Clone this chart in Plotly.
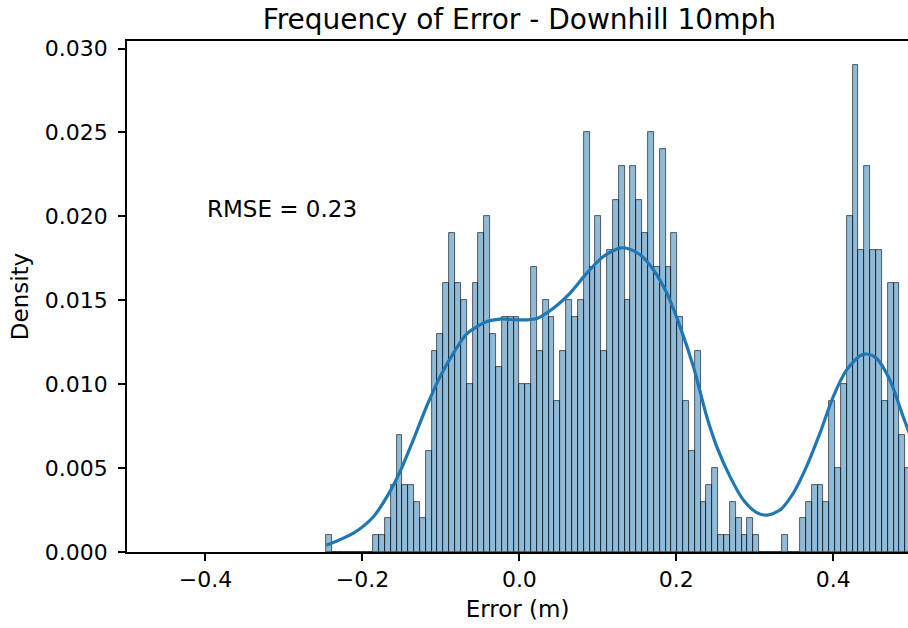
import numpy as np
import plotly.graph_objects as go

# ---- data ----
bin_start = -0.2459      # left edge of first bin
bin_width = 0.00745      # width of each of the 100 bins
probabilities = [
    0.001, 0, 0, 0, 0, 0, 0, 0, 0.001, 0.001,
    0.002, 0.004, 0.007, 0.004, 0.004, 0.003, 0.002, 0.006, 0.012, 0.013,
    0.016, 0.019, 0.016, 0.015, 0.010, 0.016, 0.019, 0.020, 0.013, 0.011,
    0.014, 0.014, 0.014, 0.010, 0.010, 0.017, 0.012, 0.015, 0.014, 0.009,
    0.012, 0.015, 0.014, 0.015, 0.025, 0.017, 0.020, 0.012, 0.018, 0.021,
    0.023, 0.015, 0.023, 0.021, 0.019, 0.025, 0.017, 0.024, 0.017, 0.019,
    0.014, 0.009, 0.006, 0.012, 0.003, 0.004, 0.005, 0.001, 0.001, 0.003,
    0.002, 0.001, 0.002, 0.001, 0, 0, 0, 0, 0.001, 0,
    0, 0.002, 0.003, 0.004, 0.004, 0.003, 0.009, 0.005, 0.010, 0.020,
    0.029, 0.018, 0.023, 0.018, 0.018, 0.009, 0.016, 0.016, 0.007, 0.005,
]

kde_x = [-0.2459, -0.2115, -0.186, -0.165, -0.152, -0.135, -0.118, -0.101, -0.084,
         -0.067, -0.0415, -0.0246, 0.001, 0.0222, 0.0433, 0.0646, 0.0859, 0.107,
         0.128, 0.137, 0.154, 0.1707, 0.1878, 0.2047, 0.2217, 0.2387, 0.2515,
         0.2684, 0.2854, 0.3024, 0.3152, 0.332, 0.349, 0.366, 0.383, 0.400, 0.417,
         0.434, 0.4425, 0.455, 0.472, 0.489, 0.4993]
kde_y = [0.0004, 0.00112, 0.0021, 0.0036, 0.0048, 0.0067, 0.0087, 0.01045, 0.01185,
         0.0130, 0.01373, 0.01388, 0.01383, 0.01392, 0.01453, 0.01543, 0.01662, 0.01761,
         0.01811, 0.0181, 0.01771, 0.01682, 0.01543, 0.01343, 0.01105, 0.00807, 0.00628,
         0.00449, 0.0031, 0.00235, 0.0022, 0.0025, 0.0035, 0.0051, 0.00708, 0.00926, 0.01085,
         0.01169, 0.0118, 0.01155, 0.01026, 0.00807, 0.0068]

x_ticks = [-0.4, -0.2, 0.0, 0.2, 0.4]
y_ticks = [0.000, 0.005, 0.010, 0.015, 0.020, 0.025, 0.030]

title_text = "Frequency of Error - Downhill 10mph"
x_label = "Error (m)"
y_label = "Density"
rmse_text = "RMSE = 0.23"

# ---- figure ----
centers = bin_start + (np.arange(len(probabilities)) + 0.5) * bin_width
FONT = "DejaVu Sans"
TICK = 22
LABEL = 23

fig = go.Figure()
fig.add_trace(go.Bar(
    x=centers, y=probabilities, width=bin_width,
    marker=dict(color="rgba(31,119,180,0.5)",
                line=dict(color="rgba(0,0,0,0.75)", width=0.8)),
    showlegend=False, hoverinfo="skip",
))
fig.add_trace(go.Scatter(
    x=kde_x, y=kde_y, mode="lines",
    line=dict(color="#1f77b4", width=3.2, shape="spline", smoothing=0.8),
    showlegend=False,
))

fig.add_annotation(x=-0.4, y=0.02045, xref="x", yref="y", text=rmse_text,
                   showarrow=False, xanchor="left", yanchor="middle",
                   font=dict(family=FONT, size=LABEL, color="black"))

fig.update_layout(
    width=908, height=628,
    margin=dict(l=127, r=0, t=41, b=76, pad=0),
    paper_bgcolor="white", plot_bgcolor="white",
    bargap=0,
    font=dict(family=FONT, size=TICK, color="black"),
    title=dict(text=title_text, x=519.3 / 908, xref="container", xanchor="center",
               y=1 - 19 / 628, yref="container", yanchor="middle",
               font=dict(family=FONT, size=28, color="black")),
)
fig.update_xaxes(
    range=[-0.5, 0.4952], tickvals=x_ticks, tickformat=".1f",
    showline=True, linecolor="black", linewidth=1.6, mirror=True,
    ticks="outside", ticklen=7, tickwidth=1.6, tickcolor="black",
    ticklabelstandoff=0,
    tickfont=dict(family=FONT, size=TICK),
    showgrid=False, zeroline=False,
    title=dict(text=x_label, standoff=10, font=dict(family=FONT, size=LABEL)),
)
fig.update_yaxes(
    range=[0, 0.03045], tickvals=y_ticks, tickformat=".3f",
    showline=True, linecolor="black", linewidth=1.6, mirror=False,
    ticks="outside", ticklen=7, tickwidth=1.6, tickcolor="black",
    ticklabelstandoff=6,
    tickfont=dict(family=FONT, size=TICK),
    showgrid=False, zeroline=False,
    title=dict(text=y_label, standoff=10, font=dict(family=FONT, size=LABEL)),
)

fig.write_html("out.html")
